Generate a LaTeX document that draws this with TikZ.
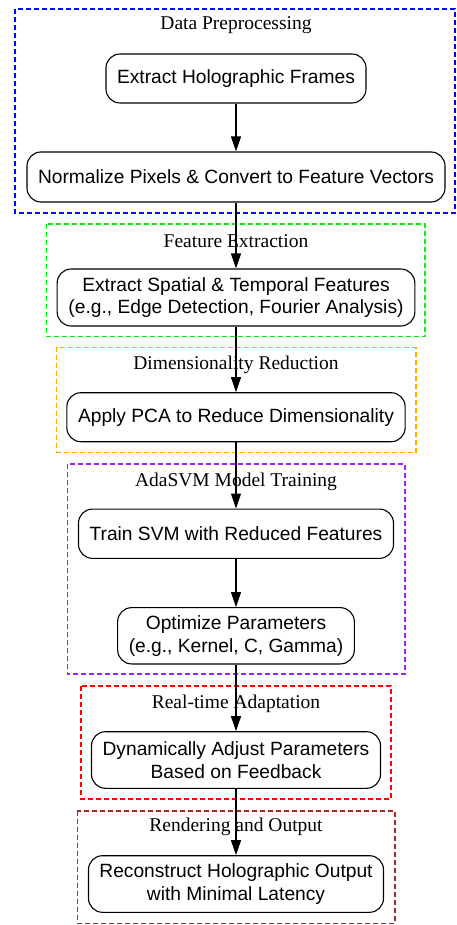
\documentclass[tikz,border=0pt]{standalone}
\usepackage{fontspec}
\setmainfont{Liberation Serif}
\newfontfamily\nodefont{Liberation Sans}
\usetikzlibrary{arrows.meta}
\tikzset{
  stepbox/.style={draw=black, line width=1.1pt, rounded corners=14pt, inner sep=0pt, align=center,
    font=\nodefont\fontsize{19.2}{22.7}\selectfont},
  clusterbox/.style={dashed, dash pattern=on 5pt off 3pt, line width=1.1pt},
  clustertitle/.style={inner sep=0pt, font=\fontsize{19.5}{22.7}\selectfont},
  flow/.style={draw=black, line width=1.1pt, -{Triangle[length=15pt,width=10pt]}}
}
\definecolor{cblue}{RGB}{0,0,255}
\definecolor{cgreen}{RGB}{20,235,20}
\definecolor{corange}{RGB}{255,165,0}
\definecolor{cpurple}{RGB}{160,32,240}
\definecolor{cred}{RGB}{255,0,0}
\definecolor{cbrown}{RGB}{165,42,42}
\begin{document}
\begin{tikzpicture}[x=1pt,y=-1pt]
\useasboundingbox (0,0) rectangle (456,925);
\fill[white] (0,0) rectangle (456,925);
% clusters
\draw[clusterbox, cblue] (15,9) rectangle (455,213);
\draw[clusterbox, cgreen] (46.7,224) rectangle (425,336.7);
\draw[clusterbox, corange] (56.7,347.3) rectangle (416,452.3);
\draw[clusterbox, cpurple] (67.3,464) rectangle (405,674);
\draw[clusterbox, cred] (81,686) rectangle (391,799);
\draw[clusterbox, cbrown] (77.3,811) rectangle (395,923.3);
% titles
\node[clustertitle] (t1) at (236,25) {Data Preprocessing};
\node[clustertitle] (t2) at (236,241) {Feature Extraction};
\node[clustertitle] (t3) at (236,365) {Dimensionality Reduction};
\node[clustertitle] (t4) at (236,481.7) {AdaSVM Model Training};
\node[clustertitle] (t5) at (236,704) {Real-time Adaptation};
\node[clustertitle] (t6) at (236,826.7) {Rendering and Output};
% nodes
\node[stepbox, minimum width=260pt, minimum height=49pt] (n1) at (236,78.5) {Extract Holographic Frames};
\node[stepbox, minimum width=418pt, minimum height=50pt] (n2) at (236,177) {Normalize Pixels \& Convert to Feature Vectors};
\node[stepbox, minimum width=357.7pt, minimum height=57pt] (n3) at (236,297.5) {Extract Spatial \& Temporal Features\\(e.g., Edge Detection, Fourier Analysis)};
\node[stepbox, minimum width=338.3pt, minimum height=49pt] (n4) at (236,417.2) {Apply PCA to Reduce Dimensionality};
\node[stepbox, minimum width=315pt, minimum height=49.3pt] (n5) at (236,533.7) {Train SVM with Reduced Features};
\node[stepbox, minimum width=236.7pt, minimum height=56.3pt] (n6) at (236,635.8) {Optimize Parameters\\(e.g., Kernel, C, Gamma)};
\node[stepbox, minimum width=289pt, minimum height=56.6pt] (n7) at (236,760) {Dynamically Adjust Parameters\\Based on Feedback};
\node[stepbox, minimum width=295pt, minimum height=56.6pt] (n8) at (236,884) {Reconstruct Holographic Output\\with Minimal Latency};
% edges
\draw[flow] (n1) -- (n2);
\draw[flow] (n2) -- (n3);
\draw[flow] (n3) -- (n4);
\draw[flow] (n4) -- (n5);
\draw[flow] (n5) -- (n6);
\draw[flow] (n6) -- (n7);
\draw[flow] (n7) -- (n8);
\end{tikzpicture}
\end{document}
